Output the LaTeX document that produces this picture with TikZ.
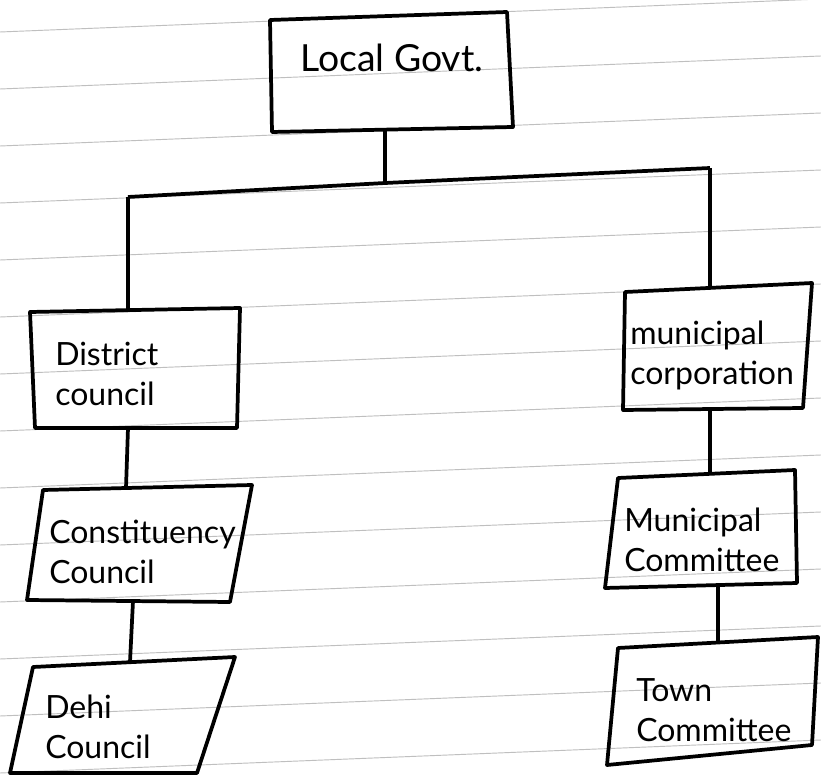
\documentclass[tikz,border=0pt]{standalone}
\usepackage{fontspec}
\setmainfont{Lato}
\begin{document}
\begin{tikzpicture}[x=0.75pt,y=-0.75pt,
  box/.style={draw=black,line width=2.8pt,line join=round},
  lbl/.style={align=left,font=\fontsize{24}{30}\selectfont,inner sep=0pt,text=black},
  conn/.style={draw=black,line width=2.8pt},
  rule/.style={draw=black!25,line width=0.7pt}]
\useasboundingbox (0,0) rectangle (821,780);
\fill[white] (0,0) rectangle (821,780);
% ruled paper
\foreach \k in {0,...,14}{
  \draw[rule] (0,{-25+57*\k}) -- (821,{-25+57*\k-33});
}
% boxes (outlines)
\draw[box] (270,20) -- (507,12) -- (513,127) -- (272,132) -- cycle;
\draw[box] (30,312) -- (240,308) -- (237,428) -- (35,428) -- cycle;
\draw[box] (43,490) -- (252,485) -- (230,602) -- (27,600) -- cycle;
\draw[box] (33,667) -- (235,657) -- (197,773) -- (10,773) -- cycle;
\draw[box] (625,292) -- (812,283) -- (803,408) -- (623,410) -- cycle;
\draw[box] (618,478) -- (795,470) -- (797,583) -- (605,588) -- cycle;
\draw[box] (618,648) -- (818,637) -- (812,745) -- (607,765) -- cycle;
% nodes
\node[lbl,anchor=west,font=\fontsize{28}{32}\selectfont] (lg) at (300,58) {Local Govt.};
\node[lbl,anchor=west] (dc) at (55,374) {District\\council};
\node[lbl,anchor=west] (cc) at (49,552) {Constituency\\Council};
\node[lbl,anchor=west] (dh) at (45,727) {Dehi\\Council};
\node[lbl,anchor=west] (mc) at (630,355) {municipal\\corporation};
\node[lbl,anchor=west] (mm) at (624,540) {Municipal\\Committee};
\node[lbl,anchor=west] (tc) at (636,710) {Town\\Committee};
% junctions
\coordinate (lgb) at (385,130);
\coordinate (mid) at (385,183);
\coordinate (jl) at (128,197);
\coordinate (jr) at (710,168);
\coordinate (dct) at (128,310);
\coordinate (dcb) at (128,428);
\coordinate (cct) at (126,488);
\coordinate (ccb) at (133,601);
\coordinate (dht) at (130,662);
\coordinate (mct) at (710,288);
\coordinate (mcb) at (710,409);
\coordinate (mmt) at (710,474);
\coordinate (mmb) at (718,585);
\coordinate (tct) at (718,643);
% connectors
\draw[conn] (lgb) -- (mid);
\draw[conn] (jl) -- (mid) -- (jr);
\draw[conn] (jl) -- (dct);
\draw[conn] (jr) -- (mct);
\draw[conn] (dcb) -- (cct);
\draw[conn] (ccb) -- (dht);
\draw[conn] (mcb) -- (mmt);
\draw[conn] (mmb) -- (tct);
\end{tikzpicture}
\end{document}
